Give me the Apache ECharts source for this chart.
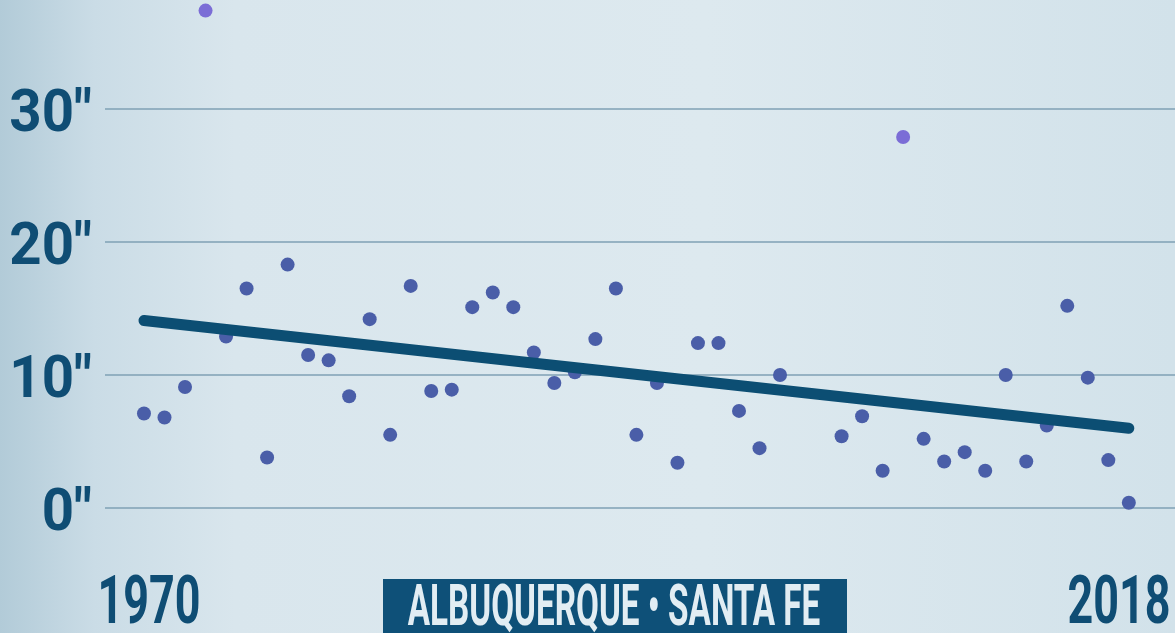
<!DOCTYPE html>
<html><head><meta charset="utf-8">
<script src="https://cdn.jsdelivr.net/npm/echarts@6/dist/echarts.min.js"></script>
<style>html,body{margin:0;padding:0;width:1175px;height:633px;overflow:hidden;background:#d8e6ed}#c{width:1175px;height:633px}</style>
</head><body><div id="c"></div>
<script>
// ---- data ----
const years = [1970,1971,1972,1973,1974,1975,1976,1977,1978,1979,
               1980,1981,1982,1983,1984,1985,1986,1987,1988,1989,
               1990,1991,1992,1993,1994,1995,1996,1997,1998,1999,
               2000,2001,2002,2003,2004,2005,2006,2007,2008,2009,
               2010,2011,2012,2013,2014,2015,2016,2017,2018];
const snowfall = [7.1,6.8,9.1,37.4,12.9,16.5,3.8,18.3,11.5,11.1,
                  8.4,14.2,5.5,16.7,8.8,8.9,15.1,16.2,15.1,11.7,
                  9.4,10.2,12.7,16.5,5.5,9.4,3.4,12.4,12.4,7.3,
                  4.5,10.0,null,null,5.4,6.9,2.8,27.9,5.2,3.5,
                  4.2,2.8,10.0,3.5,6.2,15.2,9.8,3.6,0.4];
const recordYears = [1973, 2007];
const trendYears = [1970, 2018];
const trendValues = [14.1, 6.0];
const yTicks = [0, 10, 20, 30];
const xTickLabels = [1970, 2018];
const titleText = 'ALBUQUERQUE \u2022 SANTA FE';

// ---- chart ----
const chart = echarts.init(document.getElementById('c'), null, {renderer: 'canvas'});
const FONT = 'Roboto';
const LABEL_COLOR = '#0f4d74';

const points = [];
years.forEach((y, i) => { if (snowfall[i] !== null) points.push([y, snowfall[i]]); });

chart.setOption({
  animation: false,
  backgroundColor: {
    type: 'linear', x: 0, y: 0, x2: 1, y2: 0,
    colorStops: [
      {offset: 0, color: '#b2cbd8'},
      {offset: 0.08, color: '#cadce6'},
      {offset: 0.2, color: '#d9e6ed'},
      {offset: 0.6, color: '#dde9ef'},
      {offset: 1, color: '#d2e2ea'}
    ]
  },
  grid: {left: 105, right: 0, top: 109, bottom: 125},
  xAxis: {type: 'value', min: 1968.1, max: 2020.25, show: false},
  yAxis: {
    type: 'value', min: 0, max: 30, interval: 10,
    axisLabel: {show: false}, axisLine: {show: false}, axisTick: {show: false},
    splitLine: {lineStyle: {color: '#7fa0b4', width: 1.5}}
  },
  series: [
    {
      type: 'scatter', data: points, symbolSize: 14, clip: false, z: 2,
      itemStyle: {
        opacity: 1,
        color: p => recordYears.includes(p.value[0]) ? '#7b6dd6' : '#4a5ea8'
      }
    },
    {
      type: 'line', data: trendYears.map((y, i) => [y, trendValues[i]]),
      symbol: 'none', z: 3,
      lineStyle: {color: '#0c4e73', width: 11, cap: 'round'}
    }
  ]
});

// ---- text labels (condensed by horizontal scaling) ----
const ctx = document.createElement('canvas').getContext('2d');
function inkMetrics(text, size) {
  ctx.font = 'bold ' + size + 'px ' + FONT;
  ctx.textBaseline = 'middle';
  const m = ctx.measureText(text);
  return {
    w: m.actualBoundingBoxLeft + m.actualBoundingBoxRight,
    mid: (m.actualBoundingBoxDescent - m.actualBoundingBoxAscent) / 2
  };
}
const graphics = [];

// y tick labels
const ySize = 59;
const yScale = 80 / inkMetrics('30"', ySize).w;
yTicks.forEach(t => {
  const txt = t + '"';
  const py = chart.convertToPixel({gridIndex: 0}, [1970, t])[1];
  const m = inkMetrics(txt, ySize);
  graphics.push({
    type: 'text', x: 92, y: py - m.mid, scaleX: yScale,
    style: {text: txt, font: 'bold ' + ySize + 'px ' + FONT, fill: LABEL_COLOR,
            align: 'right', verticalAlign: 'middle'}
  });
});

// x labels
const xSize = 67;
const xm = inkMetrics('1970', xSize);
const xScale = 98 / xm.w;
xTickLabels.forEach(v => {
  const txt = String(v);
  let px = chart.convertToPixel({gridIndex: 0}, [v, 0])[0];
  const half = 51;
  px = Math.max(half + 98, Math.min(1175 - half - 5, px + 5));
  graphics.push({
    type: 'text', x: px, y: 599 - xm.mid, scaleX: xScale,
    style: {text: txt, font: 'bold ' + xSize + 'px ' + FONT, fill: LABEL_COLOR,
            align: 'center', verticalAlign: 'middle'}
  });
});

// title box
graphics.push({
  type: 'rect', shape: {x: 383, y: 579, width: 464, height: 60},
  style: {fill: '#0e5078'}, z: 10
});
const tSize = 57;
const tm = inkMetrics(titleText, tSize);
graphics.push({
  type: 'text', x: 614, y: 608 - tm.mid, scaleX: 412 / tm.w, z: 11,
  style: {text: titleText, font: 'bold ' + tSize + 'px ' + FONT, fill: '#e2edf3',
          align: 'center', verticalAlign: 'middle'}
});

chart.setOption({graphic: graphics});
</script>
</body></html>
